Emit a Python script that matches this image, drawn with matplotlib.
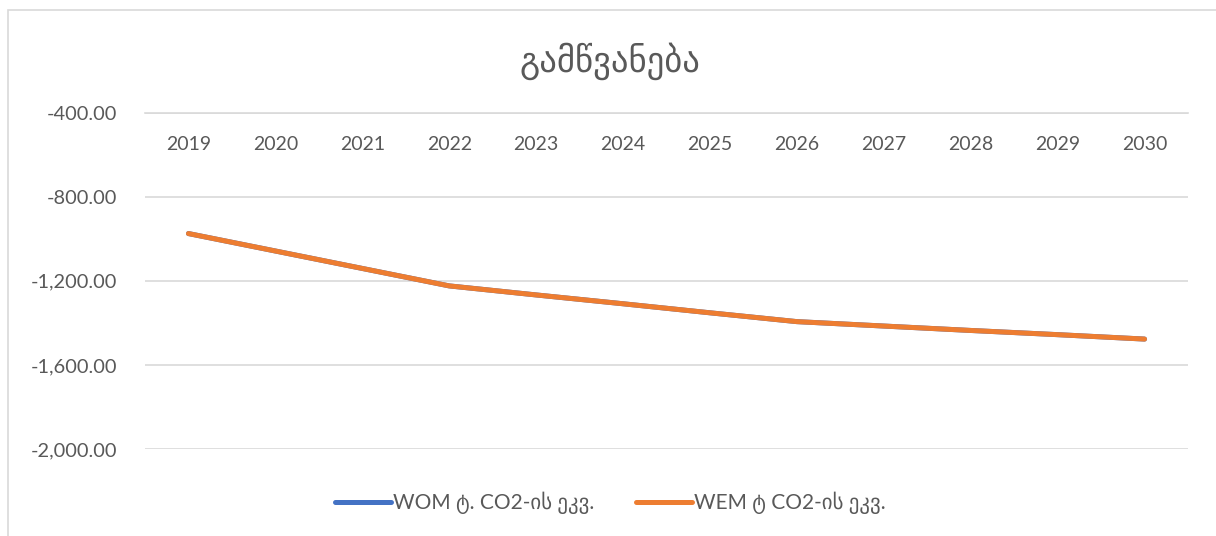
import matplotlib
matplotlib.use("Agg")
import matplotlib.pyplot as plt
from matplotlib.patches import Rectangle
from matplotlib.ticker import FuncFormatter

years = ['2019', '2020', '2021', '2022', '2023', '2024',
         '2025', '2026', '2027', '2028', '2029', '2030']
wom = [-975, -1058, -1141, -1224, -1267, -1309,
       -1352, -1394, -1415, -1436, -1456, -1477]
wem = [-975, -1058, -1141, -1224, -1267, -1309,
       -1352, -1394, -1415, -1436, -1456, -1477]
title = 'გამწვანება'
names = ['WOM ტ. CO2-ის ეკვ.', 'WEM ტ CO2-ის ეკვ.']

plt.rcParams['font.family'] = ['Lato', 'DejaVu Sans']
txt = '#595959'
grid = '#d9d9d9'

fig = plt.figure(figsize=(12.16, 5.36), dpi=100)
ax = fig.add_axes([145/1216, 1-449/536, (1188-145)/1216, (449-112.7)/536])

# chart frame, cut off at right and bottom like the screenshot
fig.patches.append(Rectangle((8/1216, -0.1), 1.2, 1.1 - 10/536,
                             transform=fig.transFigure, fill=False,
                             edgecolor=grid, linewidth=1.2, clip_on=False))

x = list(range(len(years)))
ax.plot(x, wom, color='#4472C4', lw=3.6, solid_capstyle='round', label=names[0], zorder=3)
ax.plot(x, wem, color='#ED7D31', lw=3.6, solid_capstyle='round', label=names[1], zorder=4)

ax.set_xlim(-0.5, len(years) - 0.5)
ax.set_ylim(-2000, -400)
ax.set_yticks([-2000, -1600, -1200, -800, -400])
ax.yaxis.set_major_formatter(FuncFormatter(lambda v, p: f'{v:,.2f}'))
ax.grid(axis='y', color=grid, lw=1.2)
ax.set_axisbelow(True)

ax.set_xticks(x)
ax.set_xticklabels(years)
for s in ['left', 'right', 'top']:
    ax.spines[s].set_visible(False)
ax.spines['bottom'].set_position(('data', -400))
ax.spines['bottom'].set_color(grid)
ax.spines['bottom'].set_linewidth(1.2)
ax.tick_params(axis='x', length=0, pad=17, labelsize=14, labelcolor=txt)
ax.tick_params(axis='y', length=0, pad=20, labelsize=14.4, labelcolor=txt)

fig.text(0.502, 1 - 61/536, title, ha='center', va='center',
         fontsize=25, color=txt, family='DejaVu Sans')

fig.legend(loc='center', bbox_to_anchor=(0.502, 1 - 503/536), ncol=2,
           frameon=False, fontsize=15, labelcolor=txt, handlelength=2.7,
           handletextpad=0.1, columnspacing=2.0)

fig.savefig('out.png', dpi=100, facecolor='white')
